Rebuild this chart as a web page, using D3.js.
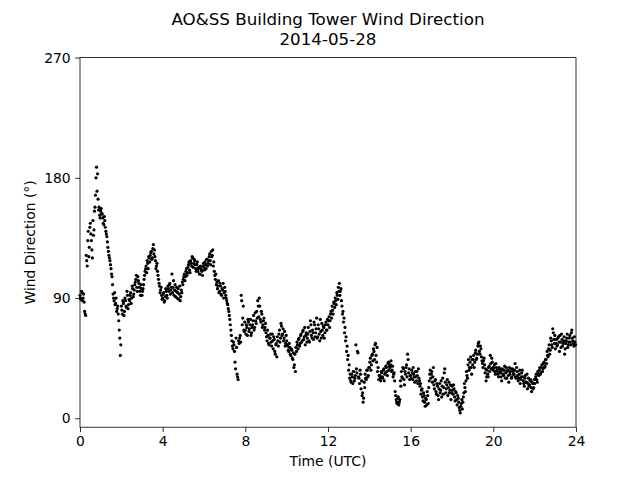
<!DOCTYPE html>
<html>
<head>
<meta charset="utf-8">
<script src="https://cdn.jsdelivr.net/npm/d3@7"></script>
<style>
  body { margin: 0; background: #fff; }
  svg { display: block; font-family: "DejaVu Sans", sans-serif; }
</style>
</head>
<body>
<div id="chart"></div>
<script>
const titleLines = ['AO&SS Building Tower Wind Direction', '2014-05-28']
const xLabel = 'Time (UTC)'
const yLabel = 'Wind Direction (°)'
const xTicks = [0, 4, 8, 12, 16, 20, 24]
const yTicks = [0, 90, 180, 270]
const sampleMinutes = 3

// wind direction (deg), readings on the 3-minute marks, 20 per hour
const windDirA = [
  // 00h
  92, 89, 94, 90, 87, 78, 122, 114, 140, 128, 146, 133, 120, 137, 155, 167, 188, 183, 156, 152,
  // 01h
  155, 153, 150, 145, 148, 140, 136, 128, 122, 118, 112, 106, 93, 88, 85, 90, 82, 78, 66, 47,
  // 02h
  84, 78, 86, 80, 88, 83, 92, 85, 88, 94, 90, 97, 93, 100, 104, 98, 106, 101, 95, 100,
  // 03h
  92, 97, 104, 110, 114, 118, 112, 120, 122, 125, 120, 130, 126, 118, 114, 110, 104, 99, 96, 92,
  // 04h
  90, 94, 88, 97, 92, 99, 95, 101, 96, 108, 98, 92, 100, 95, 90, 97, 93, 88, 96, 102,
  // 05h
  104, 108, 106, 112, 109, 115, 111, 118, 114, 120, 116, 118, 112, 115, 110, 113, 108, 112, 110, 114,
  // 06h
  113, 117, 112, 119, 116, 121, 118, 125, 122, 114, 110, 104, 100, 97, 103, 95, 99, 92, 96, 90,
  // 07h
  98, 92, 88, 85, 80, 74, 66, 58, 52, 55, 42, 60, 33, 29, 56, 62, 92, 70, 84, 65,
  // 08h
  66, 70, 62, 72, 67, 74, 64, 70, 77, 68, 73, 80, 88, 76, 84, 72, 78, 70, 75, 68,
  // 09h
  64, 58, 62, 55, 60, 57, 63, 52, 59, 48, 56, 61, 54, 66, 60, 69, 63, 58, 65, 56,
  // 10h
  58, 54, 50, 53, 47, 51, 44, 38, 48, 53, 57, 52, 60, 56, 63, 58, 66, 61, 55, 64,
  // 11h
  60, 68, 57, 73, 62, 66, 59, 70, 64, 75, 61, 67, 58, 65, 71, 62, 68, 64, 72, 66,
  // 12h
  70, 76, 73, 80, 84, 78, 86, 90, 85, 92, 98, 101, 95, 88, 78, 72, 64, 58, 50, 44,
  // 13h
  36, 30, 28, 33, 26, 35, 30, 55, 34, 49, 30, 36, 22, 17, 12, 27, 33, 29, 36, 32,
  // 14h
  38, 45, 40, 48, 52, 44, 56, 42, 35, 29, 32, 28, 34, 30, 37, 33, 39, 35, 41, 36,
  // 15h
  38, 43, 36, 31, 34, 20, 14, 11, 16, 12, 28, 35, 30, 37, 25, 33, 40, 48, 34, 29,
  // 16h
  32, 36, 29, 33, 27, 31, 35, 26, 30, 24, 18, 22, 13, 17, 9, 14, 20, 11, 28, 36,
  // 17h
  33, 27, 38, 22, 29, 18, 24, 14, 26, 21, 16, 30, 23, 37, 19, 25, 17, 27, 21, 14,
  // 18h
  24, 18, 22, 13, 19, 10, 15, 8, 4, 11, 7, 16, 26, 20, 35, 30, 44, 38, 46, 33,
  // 19h
  40, 47, 42, 51, 45, 54, 57, 48, 52, 43, 38, 45, 34, 28, 36, 31, 39, 47, 37, 42,
  // 20h
  36, 40, 33, 38, 35, 31, 37, 34, 28, 36, 32, 39, 34, 30, 36, 27, 33, 37, 31, 35,
  // 21h
  33, 41, 30, 35, 28, 33, 26, 31, 36, 28, 24, 32, 27, 22, 30, 25, 29, 20, 26, 23,
  // 22h
  26, 31, 29, 35, 32, 38, 34, 40, 37, 42, 39, 44, 50, 46, 55, 51, 58, 53, 64, 56,
  // 23h
  52, 59, 55, 61, 50, 57, 63, 54, 58, 48, 56, 60, 53, 57, 62, 55, 66, 58, 54, 57
]

// readings half way between the 3-minute marks (x:01:30, x:04:30, ...)
const windDirB = [
  // 00h
  90, 95, 88, 93, 80, 77, 118, 133, 121, 143, 138, 126, 148, 141, 158, 180, 170, 164, 158, 150,
  // 01h
  157, 153, 146, 151, 143, 138, 132, 125, 120, 115, 108, 100, 90, 94, 86, 80, 84, 73, 60, 55,
  // 02h
  81, 88, 77, 90, 84, 95, 82, 89, 92, 86, 99, 91, 96, 102, 107, 95, 103, 98, 92, 97,
  // 03h
  95, 100, 107, 112, 109, 116, 121, 117, 124, 119, 127, 123, 121, 112, 116, 107, 101, 94, 98, 89,
  // 04h
  93, 87, 91, 95, 90, 97, 100, 93, 98, 94, 103, 96, 91, 98, 94, 89, 99, 91, 94, 100,
  // 05h
  106, 103, 110, 107, 113, 117, 109, 116, 121, 113, 119, 115, 110, 117, 112, 108, 114, 111, 107, 116,
  // 06h
  111, 115, 119, 114, 118, 123, 115, 121, 126, 117, 107, 108, 102, 99, 94, 101, 93, 97, 101, 94,
  // 07h
  95, 90, 86, 82, 77, 70, 62, 54, 57, 50, 37, 53, 31, 58, 60, 57, 88, 75, 66, 72,
  // 08h
  63, 68, 74, 65, 70, 62, 68, 73, 66, 79, 71, 75, 84, 90, 74, 80, 68, 73, 66, 71,
  // 09h
  61, 66, 56, 60, 63, 54, 58, 61, 50, 55, 46, 58, 63, 57, 71, 62, 67, 60, 54, 62,
  // 10h
  55, 51, 56, 48, 52, 45, 49, 40, 35, 50, 55, 59, 54, 62, 57, 65, 59, 68, 62, 57,
  // 11h
  63, 58, 65, 70, 60, 64, 72, 61, 67, 60, 70, 63, 74, 60, 66, 69, 60, 70, 66, 74,
  // 12h
  73, 68, 78, 75, 81, 87, 83, 88, 94, 89, 95, 92, 97, 84, 80, 75, 68, 61, 54, 47,
  // 13h
  40, 33, 27, 31, 35, 28, 32, 37, 50, 31, 26, 33, 28, 19, 15, 23, 30, 36, 31, 38,
  // 14h
  42, 36, 47, 43, 50, 55, 47, 53, 38, 32, 30, 35, 31, 36, 28, 34, 38, 32, 42, 39,
  // 15h
  40, 35, 39, 33, 28, 17, 12, 15, 10, 14, 24, 31, 38, 29, 35, 38, 31, 44, 37, 32,
  // 16h
  30, 34, 38, 31, 35, 28, 32, 37, 28, 26, 21, 16, 19, 12, 15, 10, 17, 23, 33, 30,
  // 17h
  35, 31, 25, 28, 20, 26, 17, 22, 19, 28, 24, 18, 34, 27, 22, 29, 23, 19, 25, 19,
  // 18h
  21, 25, 16, 20, 14, 17, 12, 6, 9, 14, 12, 19, 23, 28, 32, 40, 36, 42, 38, 44,
  // 19h
  44, 38, 49, 44, 48, 56, 50, 54, 46, 41, 43, 40, 37, 31, 33, 38, 35, 41, 45, 38,
  // 20h
  38, 35, 41, 36, 33, 38, 35, 31, 37, 33, 36, 30, 38, 35, 32, 38, 35, 30, 37, 33,
  // 21h
  36, 31, 38, 32, 30, 36, 29, 34, 31, 26, 30, 27, 33, 26, 24, 28, 23, 27, 22, 29,
  // 22h
  29, 33, 27, 33, 36, 33, 38, 35, 41, 38, 44, 41, 47, 52, 48, 60, 55, 67, 59, 62,
  // 23h
  56, 54, 60, 57, 62, 53, 59, 56, 61, 52, 58, 63, 55, 60, 57, 64, 60, 56, 61, 55
]

const width = 640
const height = 480
const margin = { left: 80, right: 64, top: 57.6, bottom: 52.8 }

const points = windDirA.map((v, i) => ({ t: i * sampleMinutes / 60, v: v }))
    .concat(windDirB.map((v, i) => ({ t: (i + 0.5) * sampleMinutes / 60, v: v })))

const x = d3.scaleLinear().domain([0, 24]).range([margin.left, width - margin.right])
const y = d3.scaleLinear().domain([-6.7, 270]).range([height - margin.bottom, margin.top])

const svg = d3.select('#chart').append('svg')
    .attr('width', width)
    .attr('height', height)

svg.append('g').selectAll('circle')
    .data(points)
    .enter()
    .append('circle')
    .attr('cx', d => x(d.t))
    .attr('cy', d => y(d.v))
    .attr('r', 1.6)
    .attr('fill', '#000')

const tickLen = 4.86
const fontSize = 13.9

const xAxis = svg.append('g')
    .attr('transform', `translate(0, ${ height - margin.bottom })`)
    .call(d3.axisBottom(x).tickValues(xTicks).tickSize(tickLen).tickPadding(4.5).tickFormat(d3.format('d')))

const yAxis = svg.append('g')
    .attr('transform', `translate(${ margin.left }, 0)`)
    .call(d3.axisLeft(y).tickValues(yTicks).tickSize(tickLen).tickPadding(4.5).tickFormat(d3.format('d')))

;[xAxis, yAxis].forEach(a => {
    a.select('.domain').remove()
    a.selectAll('line').attr('stroke', '#000').attr('stroke-width', 0.8)
    a.selectAll('text')
        .attr('font-family', '"DejaVu Sans", sans-serif')
        .attr('font-size', fontSize)
        .attr('fill', '#000')
})

svg.append('rect')
    .attr('x', margin.left)
    .attr('y', margin.top)
    .attr('width', width - margin.left - margin.right)
    .attr('height', height - margin.top - margin.bottom)
    .attr('fill', 'none')
    .attr('stroke', '#000')
    .attr('stroke-width', 0.8)

svg.append('text')
    .attr('x', (margin.left + width - margin.right) / 2)
    .attr('y', 466)
    .attr('text-anchor', 'middle')
    .attr('font-size', fontSize)
    .text(xLabel)

svg.append('text')
    .attr('transform', `translate(35, ${ (margin.top + height - margin.bottom) / 2 }) rotate(-90)`)
    .attr('text-anchor', 'middle')
    .attr('font-size', fontSize)
    .text(yLabel)

const title = svg.append('text')
    .attr('text-anchor', 'middle')
    .attr('font-size', 16.7)
titleLines.forEach((line, i) => {
    title.append('tspan')
        .attr('x', (margin.left + width - margin.right) / 2)
        .attr('y', 25 + i * 20)
        .text(line)
})
</script>
</body>
</html>
